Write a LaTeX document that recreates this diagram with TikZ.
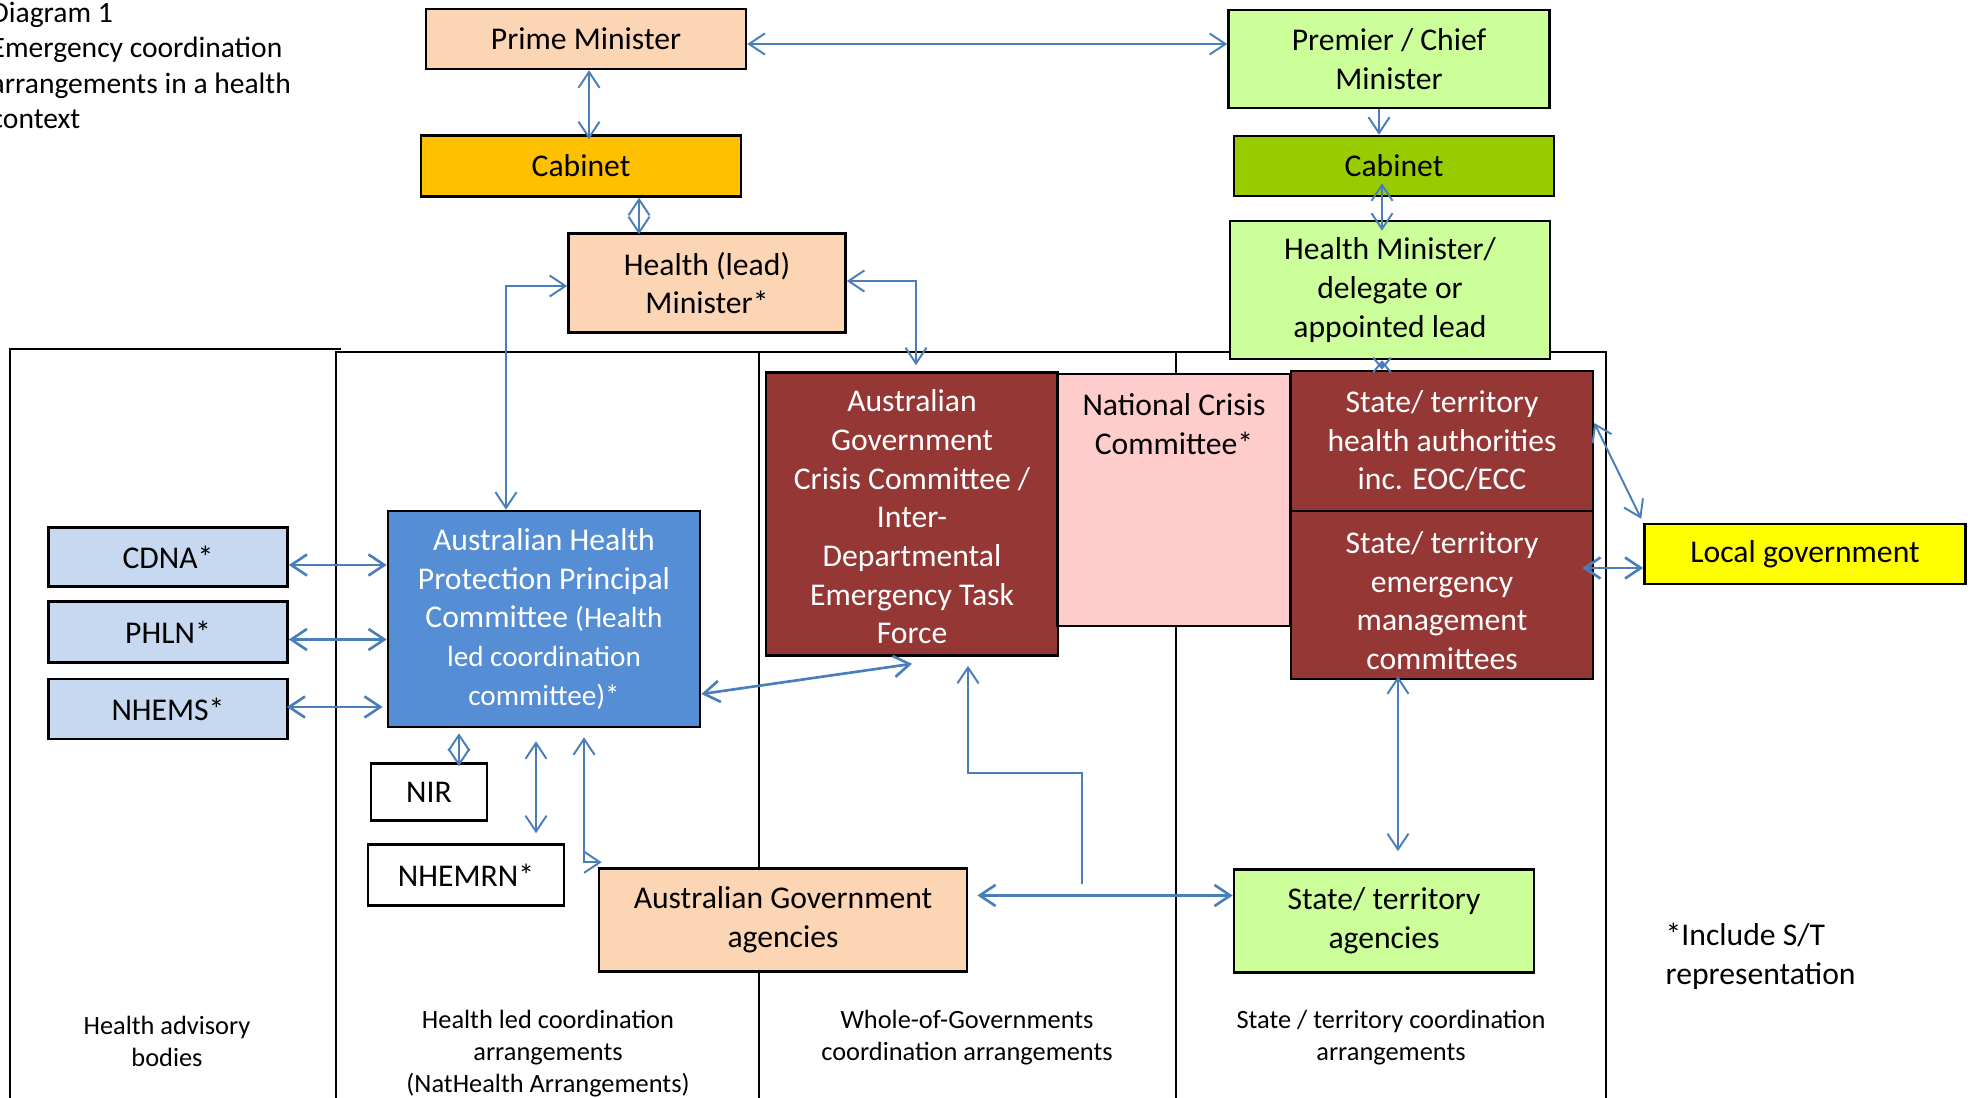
\documentclass[tikz,border=0pt]{standalone}
\usepackage{fontspec}
\setmainfont{Carlito}
\usetikzlibrary{arrows.meta}

\definecolor{peach}{HTML}{FCD5B5}
\definecolor{orangec}{HTML}{FFC000}
\definecolor{lgreen}{HTML}{CCFF99}
\definecolor{dgreen}{HTML}{99CC00}
\definecolor{dred}{HTML}{953735}
\definecolor{pinkc}{HTML}{FFCCCC}
\definecolor{bluec}{HTML}{558ED5}
\definecolor{lblue}{HTML}{C6D9F1}
\definecolor{yellowc}{HTML}{FFFF00}
\definecolor{arrblue}{HTML}{4A7EBB}

\begin{document}
\begin{tikzpicture}[x=0.01cm, y=-0.01cm,
    box/.style={draw=black, line width=0.7pt, align=center, inner sep=0pt,
                font=\fontsize{9}{11}\selectfont},
    wbox/.style={box, text=white},
    toptext/.style={anchor=north, align=center, inner sep=0pt, font=\fontsize{9}{11}\selectfont},
    lane/.style={draw=black, line width=0.5pt},
    lanetext/.style={align=center, inner sep=0pt, font=\fontsize{7.5}{9.1}\selectfont},
    conn/.style={draw=arrblue, line width=0.55pt},
    biarr/.style={conn, {Straight Barb[length=4.5pt,width=6pt]}-{Straight Barb[length=4.5pt,width=6pt]}},
    onearr/.style={conn, -{Straight Barb[length=4.5pt,width=6pt]}}]

    \useasboundingbox (0,0) rectangle (1970,1098);

    % Spalten im Hintergrund
    \draw[lane] (10,1098) -- (10,349) -- (341,349);
    \draw[lane] (336,1098) -- (336,352) -- (1606,352) -- (1606,1098);
    \draw[lane] (759,352) -- (759,1098);
    \draw[lane] (1176,352) -- (1176,1098);

    % Titel
    \node[anchor=north west, align=left, inner sep=0pt, font=\fontsize{8.4}{10.1}\selectfont] (title) at (-10,1)
        {Diagram 1\\Emergency coordination\\arrangements in a health\\context};

    % Bund oben
    \node[box, fill=peach, minimum width=3.20cm, minimum height=0.60cm] (pm) at (586,39) {Prime Minister};
    \node[box, fill=orangec, minimum width=3.20cm, minimum height=0.61cm] (cabc) at (581,166) {Cabinet};
    \node[box, fill=peach, minimum width=2.77cm, minimum height=0.99cm] (hlm) at (707,283) {Health (lead)\\Minister*};

    % Laender oben
    \node[box, fill=lgreen, minimum width=3.21cm, minimum height=0.98cm] (prem) at (1389,59) {Premier / Chief\\Minister};
    \node[box, fill=dgreen, minimum width=3.20cm, minimum height=0.60cm] (cabs) at (1394,166) {Cabinet};
    \node[box, fill=lgreen, minimum width=3.20cm, minimum height=1.38cm] (hsm) at (1390,290) {Health Minister/\\delegate or\\appointed lead};

    % Beratungsgremien
    \node[box, fill=lblue, minimum width=2.39cm, minimum height=0.59cm] (cdna) at (168,557) {CDNA*};
    \node[box, fill=lblue, minimum width=2.39cm, minimum height=0.61cm] (phln) at (168,632) {PHLN*};
    \node[box, fill=lblue, minimum width=2.39cm, minimum height=0.60cm] (nhems) at (168,709) {NHEMS*};

    % Gesundheit
    \node[wbox, fill=bluec, minimum width=3.12cm, minimum height=2.16cm] (ahppc) at (544,619)
        {Australian Health\\Protection Principal\\Committee {\fontsize{8.3}{11}\selectfont(Health}\\
         {\fontsize{8.3}{10}\selectfont led coordination}\\{\fontsize{8.3}{10}\selectfont committee)*}};
    \node[box, fill=white, minimum width=1.16cm, minimum height=0.57cm] (nir) at (429,792) {NIR};
    \node[box, fill=white, minimum width=1.96cm, minimum height=0.61cm] (nhemrn) at (466,875) {NHEMRN*};
    \node[box, fill=peach, minimum width=3.68cm, minimum height=1.03cm] (aga) at (783,920) {Australian Government\\agencies};

    % Krisenstaebe
    \node[box, fill=dred, minimum width=2.92cm, minimum height=2.83cm,
          label={[toptext, text=white, yshift=-0.18cm]north:{Australian\\Government\\Crisis Committee /\\Inter-\\Departmental\\Emergency Task\\Force}}]
        (acc) at (912,514) {};
    \node[box, fill=pinkc, minimum width=2.33cm, minimum height=2.52cm,
          label={[toptext, yshift=-0.2cm]north:{National Crisis\\Committee*}}]
        (ncc) at (1174,500) {};
    \node[wbox, fill=dred, minimum width=3.02cm, minimum height=1.40cm] (sha) at (1442,441)
        {State/ territory\\health authorities\\inc. EOC/ECC};
    \node[box, fill=dred, minimum width=3.02cm, minimum height=1.68cm,
          label={[toptext, text=white, yshift=-0.21cm]north:{State/ territory\\emergency\\management\\committees}}]
        (emc) at (1442,595) {};
    \node[box, fill=yellowc, minimum width=3.21cm, minimum height=0.60cm] (loc) at (1805,554) {Local government};
    \node[box, fill=lgreen, minimum width=3.00cm, minimum height=1.03cm] (sta) at (1384,921) {State/ territory\\agencies};

    % Beschriftung der Spalten
    \node[lanetext] (l1) at (167,1041) {Health advisory\\bodies};
    \node[lanetext] (l2) at (548,1054) {Health led coordination\\arrangements\\(NatHealth Arrangements)};
    \node[lanetext] (l3) at (967,1038) {Whole-of-Governments\\coordination arrangements};
    \node[lanetext] (l4) at (1391,1038) {State / territory coordination\\arrangements};
    \node[anchor=west, align=left, inner sep=0pt, font=\fontsize{9}{11}\selectfont] (note) at (1665,956)
        {*Include S/T\\representation};

    % Pfeile oben
    \draw[biarr] ([yshift=-0.05cm]pm.east) -- ([yshift=-0.05cm]pm.east -| prem.west);
    \draw[biarr] ([xshift=0.03cm]pm.south) -- ([xshift=0.03cm,yshift=-0.05cm]pm.south |- cabc.north);
    \draw[biarr] ([xshift=0.58cm]cabc.south) -- ([xshift=0.58cm,yshift=-0.02cm]cabc.south |- hlm.north);
    \draw[onearr] ([xshift=-0.1cm]prem.south) -- ([xshift=-0.1cm]prem.south |- cabs.north);
    \draw[biarr] ([xshift=-0.12cm,yshift=0.14cm]cabs.south) -- ([xshift=-0.12cm,yshift=-0.11cm]cabs.south |- hsm.north);
    \draw[conn, {Straight Barb[length=3pt,width=5pt]}-{Straight Barb[length=3pt,width=5pt]}]
        ([xshift=-0.08cm]hsm.south) -- ([xshift=-0.08cm]hsm.south |- sha.north);
    \draw[biarr] ([yshift=-0.03cm]hlm.west) -| ([xshift=-0.38cm]ahppc.north);
    \draw[biarr] ([yshift=0.02cm]hlm.east) -| ([xshift=0.04cm,yshift=0.06cm]acc.north);

    % Pfeile links
    \draw[biarr, line width=0.75pt] ([yshift=-0.08cm]cdna.east) -- ([yshift=-0.08cm]cdna.east -| ahppc.west);
    \draw[biarr, line width=0.75pt] ([yshift=-0.075cm]phln.east) -- ([yshift=-0.075cm]phln.east -| ahppc.west);
    \draw[biarr, line width=0.75pt] ([xshift=-0.02cm,yshift=0.02cm]nhems.east) -- ([xshift=-0.04cm,yshift=0.02cm]nhems.east -| ahppc.west);
    \draw[biarr, line width=0.75pt] ([yshift=-0.75cm]ahppc.east) -- ([yshift=-0.07cm]acc.south);
    \draw[biarr] ([xshift=-0.85cm,yshift=-0.05cm]ahppc.south) -- ([xshift=-0.85cm,yshift=-0.04cm]ahppc.south |- nir.north);
    \draw[biarr] ([xshift=-0.08cm,yshift=-0.13cm]ahppc.south) -- ([xshift=-0.08cm,yshift=0.1cm]ahppc.south |- nhemrn.north);
    \draw[biarr] ([xshift=0.04cm,yshift=0.05cm]aga.north west) -| ([xshift=0.4cm,yshift=-0.09cm]ahppc.south);

    % Pfeile unten
    \draw[biarr, line width=0.75pt] ([xshift=0.09cm,yshift=0.245cm]aga.east) -- ([yshift=0.245cm]aga.east -| sta.west);
    \coordinate (jn) at (1082,884);
    \coordinate (bend) at (968,773);
    \draw[onearr] (jn) |- (bend) -- ([yshift=-0.09cm]bend |- acc.south);
    \draw[biarr] ([xshift=-0.44cm,yshift=0.04cm]emc.south) -- ([xshift=-0.44cm,yshift=0.17cm]emc.south |- sta.north);

    % Pfeile rechts
    \draw[biarr] ([yshift=0.18cm]sha.east) -- ([xshift=-0.02cm,yshift=0.04cm]loc.north west);
    \draw[biarr, line width=0.75pt] ([yshift=-0.14cm]loc.west) -- ([xshift=-0.12cm,yshift=-0.14cm]loc.west -| emc.east);
\end{tikzpicture}
\end{document}
